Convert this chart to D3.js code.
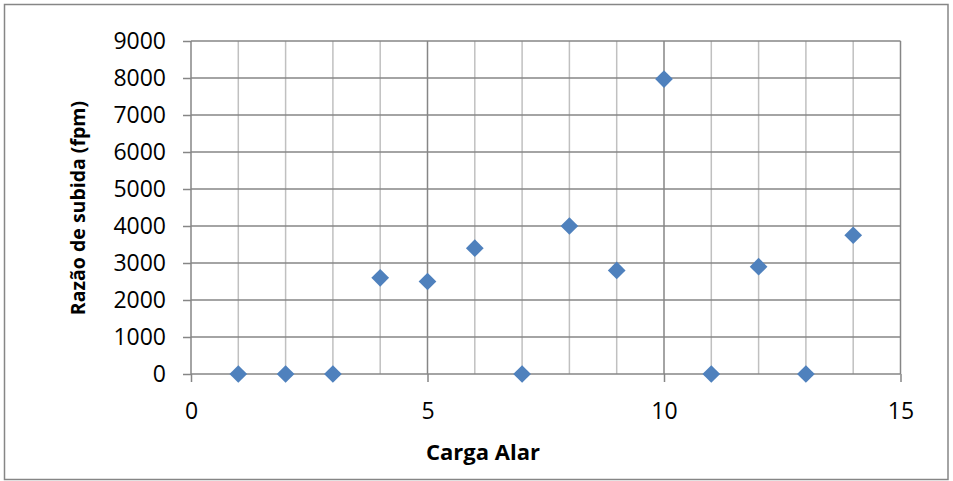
<!DOCTYPE html>
<html>
<head>
<meta charset="utf-8">
<script src="https://cdn.jsdelivr.net/npm/d3@7"></script>
<style>
  html, body { margin: 0; padding: 0; background: #fff; }
  svg { display: block; }
  text { font-family: "Open Sans", Lato, sans-serif; fill: #000; }
</style>
</head>
<body>
<svg id="chart" width="953" height="481"></svg>
<script>
// Wing loading vs climb rate
const cargaAlar = [1, 2, 3, 4, 5, 6, 7, 8, 9, 10, 11, 12, 13, 14];
const razaoSubida = [0, 0, 0, 2600, 2500, 3400, 0, 4000, 2800, 7970, 0, 2900, 0, 3750];
const xTicks = [0, 5, 10, 15];
const yTicks = [0, 1000, 2000, 3000, 4000, 5000, 6000, 7000, 8000, 9000];
const xTitle = "Carga Alar";
const yTitle = "Razão de subida (fpm)";

const svg = d3.select("#chart");
const W = 953, H = 481;
const m = { left: 191, right: 52.5, top: 41, bottom: 107 };
const FONT = "'Open Sans', Lato, sans-serif";

// outer frame
svg.append("rect")
  .attr("x", 4.5).attr("y", 4.5)
  .attr("width", W - 9.5).attr("height", H - 6)
  .attr("fill", "#fff").attr("stroke", "#868686").attr("stroke-width", 1.5);

const x = d3.scaleLinear().domain([0, 15]).range([m.left, W - m.right]);
const y = d3.scaleLinear().domain([0, 9000]).range([H - m.bottom, m.top]);

const g = svg.append("g");

// minor vertical gridlines every unit
const minor = d3.range(1, 15).filter(v => v % 5 !== 0);
g.append("g").selectAll("line").data(minor).join("line")
  .attr("x1", d => x(d)).attr("x2", d => x(d))
  .attr("y1", y(0)).attr("y2", y(9000))
  .attr("stroke", "#c0c0c0").attr("stroke-width", 1.5);

// major vertical gridlines
g.append("g").selectAll("line").data(xTicks.filter(v => v > 0)).join("line")
  .attr("x1", d => x(d)).attr("x2", d => x(d))
  .attr("y1", y(0)).attr("y2", y(9000))
  .attr("stroke", "#868686").attr("stroke-width", 1.5);

// horizontal gridlines
g.append("g").selectAll("line").data(yTicks.filter(v => v > 0)).join("line")
  .attr("x1", x(0)).attr("x2", x(15))
  .attr("y1", d => y(d)).attr("y2", d => y(d))
  .attr("stroke", "#868686").attr("stroke-width", 1.5);

// axes
const yAxis = d3.axisLeft(y).tickValues(yTicks).tickSize(8).tickPadding(17).tickFormat(d3.format("d"));
const xAxis = d3.axisBottom(x).tickValues(xTicks).tickSize(8).tickPadding(21).tickFormat(d3.format("d"));

const ya = svg.append("g").attr("transform", `translate(${x(0)},0)`).call(yAxis);
const xa = svg.append("g").attr("transform", `translate(0,${y(0)})`).call(xAxis);

[ya, xa].forEach(a => {
  a.selectAll("path.domain").attr("stroke", "#868686").attr("stroke-width", 1.5);
  a.selectAll(".tick line").attr("stroke", "#868686").attr("stroke-width", 1.5);
  a.selectAll(".tick text").attr("font-size", 23).attr("font-family", FONT).attr("fill", "#000");
});
xa.select("path.domain").attr("d", `M${x(0)},0H${x(15)}`);
ya.select("path.domain").attr("d", `M0,${y(0)}V${y(9000)}`);

// points
const diamond = d3.symbol().type(d3.symbolDiamond2).size(200);
svg.append("g").selectAll("path").data(cargaAlar.map((c, i) => [c, razaoSubida[i]])).join("path")
  .attr("d", diamond)
  .attr("transform", d => `translate(${x(d[0])},${y(d[1])})`)
  .attr("fill", "#4f81bd");

// titles
svg.append("text")
  .attr("x", 483).attr("y", 460)
  .attr("text-anchor", "middle")
  .attr("font-size", 22).attr("font-weight", "bold").attr("font-family", FONT)
  .text(xTitle);

svg.append("text")
  .attr("transform", `translate(85,${208}) rotate(-90)`)
  .attr("text-anchor", "middle")
  .attr("font-size", 19.5).attr("font-weight", "bold").attr("font-family", FONT)
  .text(yTitle);
</script>
</body>
</html>
